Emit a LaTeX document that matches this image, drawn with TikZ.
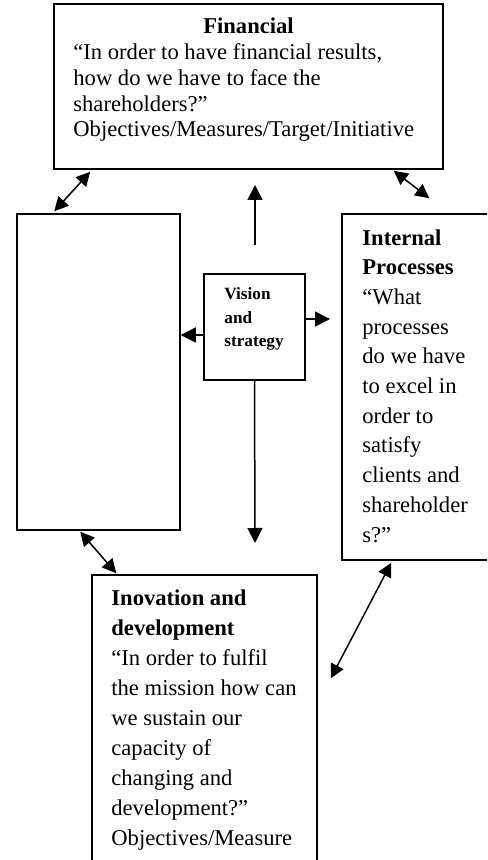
\documentclass[tikz,border=0pt]{standalone}
\usepackage{fontspec}
\setmainfont{Liberation Serif}
\usetikzlibrary{arrows.meta,positioning,calc}
\tikzset{
  box/.style={draw, line width=0.75pt, inner sep=0pt},
  txt/.style={inner sep=0pt, align=left, anchor=base west},
  conn/.style={line width=0.75pt, -{Triangle[length=7.5pt,width=7.5pt]}},
  dconn/.style={line width=0.75pt, {Triangle[length=7pt,width=7pt]}-{Triangle[length=7pt,width=7pt]}},
}
\begin{document}
\begin{tikzpicture}[x=0.5pt,y=-0.5pt]
  \useasboundingbox (0,0) rectangle (487,860);
  \clip (0,0) rectangle (487,860);
  % boxes
  \node[box, minimum width=194.5pt, minimum height=82.5pt] (fin) at (248.5,86.5) {};
  \node[box, minimum width=81.5pt, minimum height=158pt] (clients) at (98.5,372) {};
  \node[box, minimum width=89pt, minimum height=173pt] (internal) at (431,387) {};
  \node[box, minimum width=50.5pt, minimum height=53pt] (vision) at (254.5,327) {};
  \node[box, minimum width=112.5pt, minimum height=162.5pt] (inov) at (204.5,737.5) {};
  % texts (base = last line)
  \node[inner sep=0pt, anchor=base, font=\fontsize{11.3}{12.85}\selectfont\bfseries] (fintitle) at (248.5,34) {Financial};
  \node[txt, font=\fontsize{11.3}{12.85}\selectfont] (fintext) at (73,137)
    {“In order to have financial results,\\ how do we have to face the\\ shareholders?”\\ Objectives/Measures/Target/Initiative};
  \node[txt, font=\fontsize{11.3}{14.85}\selectfont] (inttext) at (362,542)
    {\textbf{Internal}\\ \textbf{Processes}\\ “What\\ processes\\ do we have\\ to excel in\\ order to\\ satisfy\\ clients and\\ shareholder\\ s?”};
  \node[txt, font=\fontsize{8.6}{11.75}\selectfont\bfseries] (vistext) at (224,347)
    {Vision\\ and\\ strategy};
  \node[txt, font=\fontsize{11.3}{15}\selectfont] (inovtext) at (111,845)
    {\textbf{Inovation and}\\ \textbf{development}\\ “In order to fulfil\\ the mission how can\\ we sustain our\\ capacity of\\ changing and\\ development?”\\ Objectives/Measure};
  % connectors
  \coordinate (upstart) at (255,245);
  \coordinate (uptip) at (255,185);
  \coordinate (downtip) at (255,543);
  \coordinate (righttip) at (330,319);
  \draw[conn] (upstart) -- (uptip);
  \draw[conn] (vision.south) -- (downtip);
  \draw[conn] ([yshift=-4pt]vision.west) -- ([yshift=-4pt]vision.west -| clients.east);
  \draw[conn] (vision.east |- righttip) -- (righttip);
  \draw[dconn] ($(fin.south west)+(37,2)$) -- ($(clients.north west)+(38,-2)$);
  \draw[dconn] ($(fin.south east)+(-50,1)$) -- ($(internal.north west)+(88,-15)$);
  \draw[dconn] ($(clients.south west)+(64,1)$) -- ($(inov.north west)+(25,-1)$);
  \draw[dconn] ($(internal.south west)+(50,2)$) -- ($(inov.north east)+(13,104)$);
\end{tikzpicture}
\end{document}
